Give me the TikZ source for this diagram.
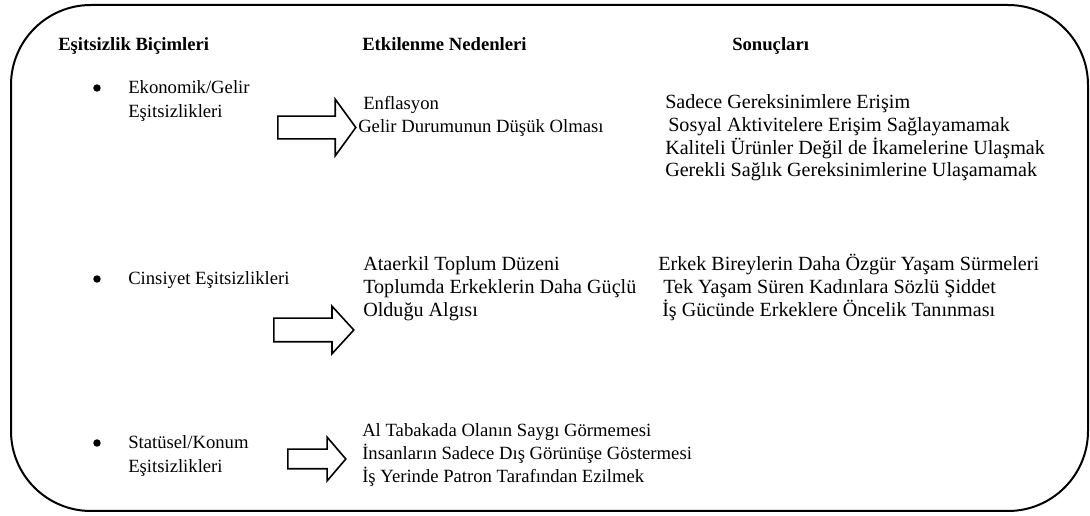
\documentclass[tikz,border=0pt]{standalone}
\usepackage{fontspec}
\setmainfont{Liberation Serif}
\usepackage{tikz}
\usetikzlibrary{shapes.arrows}

\tikzset{
  txt/.style={anchor=base west,inner sep=0pt,font=\fontsize{14}{17}\selectfont},
  txtl/.style={txt,font=\fontsize{15.1}{17}\selectfont},
  hdr/.style={txt,font=\fontsize{14}{17}\selectfont\bfseries},
  dot/.style={circle,fill=black,inner sep=0pt,minimum size=5.6pt},
  blockarrow/.style={single arrow,draw,line width=1.2pt,anchor=tail,fill=white},
  panel/.style={line width=1.5pt,rounded corners=60pt}
}

\begin{document}
\begin{tikzpicture}[x=0.75pt,y=-0.75pt]
  \useasboundingbox (0,0) rectangle (1090,516);
  \draw[panel] (11,5) rectangle (1088,511);

  % column headings
  \node[hdr] (hbicim) at (58,51) {Eşitsizlik Biçimleri};
  \node[hdr] (hneden) at (362,51) {Etkilenme Nedenleri};
  \node[hdr] (hsonuc) at (732,51) {Sonuçları};

  % forms of inequality
  \node[dot] (b1) at (97,88) {};
  \node[txt] (ekon) at (128,94) {Ekonomik/Gelir};
  \node[txt] (ekon2) at (128,118) {Eşitsizlikleri};
  \node[dot] (b2) at (97,279) {};
  \node[txt] (cins) at (128,285) {Cinsiyet Eşitsizlikleri};
  \node[dot] (b3) at (97,443) {};
  \node[txt] (stat) at (128,449) {Statüsel/Konum};
  \node[txt] (stat2) at (128,473) {Eşitsizlikleri};

  % arrows
  \node[blockarrow,inner sep=7.9pt,single arrow head extend=12.75pt,
    single arrow tip angle=108,minimum height=58.5pt] (ok1) at (277,127.5) {};
  \node[blockarrow,inner sep=8.25pt,single arrow head extend=9pt,
    single arrow tip angle=95,minimum height=60pt] (ok2) at (273,330) {};
  \node[blockarrow,inner sep=6.75pt,single arrow head extend=9pt,
    single arrow tip angle=99,minimum height=43.5pt] (ok3) at (287,459) {};

  % causes
  \node[txt] (n11) at (363,110) {Enflasyon};
  \node[txt] (n12) at (358,133) {Gelir Durumunun Düşük Olması};
  \node[txtl] (n21) at (363,271) {Ataerkil Toplum Düzeni};
  \node[txtl] (n22) at (363,294) {Toplumda Erkeklerin Daha Güçlü};
  \node[txtl] (n23) at (363,317) {Olduğu Algısı};
  \node[txt] (n31) at (362,437) {Al Tabakada Olanın Saygı Görmemesi};
  \node[txt] (n32) at (362,460) {İnsanların Sadece Dış Görünüşe Göstermesi};
  \node[txt] (n33) at (362,483) {İş Yerinde Patron Tarafından Ezilmek};

  % outcomes
  \node[txtl] (s11) at (665,109) {Sadece Gereksinimlere Erişim};
  \node[txtl] (s12) at (668,132) {Sosyal Aktivitelere Erişim Sağlayamamak};
  \node[txtl] (s13) at (665,155) {Kaliteli Ürünler Değil de İkamelerine Ulaşmak};
  \node[txtl] (s14) at (665,177) {Gerekli Sağlık Gereksinimlerine Ulaşamamak};
  \node[txtl] (s21) at (658,271) {Erkek Bireylerin Daha Özgür Yaşam Sürmeleri};
  \node[txtl] (s22) at (663,294) {Tek Yaşam Süren Kadınlara Sözlü Şiddet};
  \node[txtl] (s23) at (662,317) {İş Gücünde Erkeklere Öncelik Tanınması};
\end{tikzpicture}
\end{document}
